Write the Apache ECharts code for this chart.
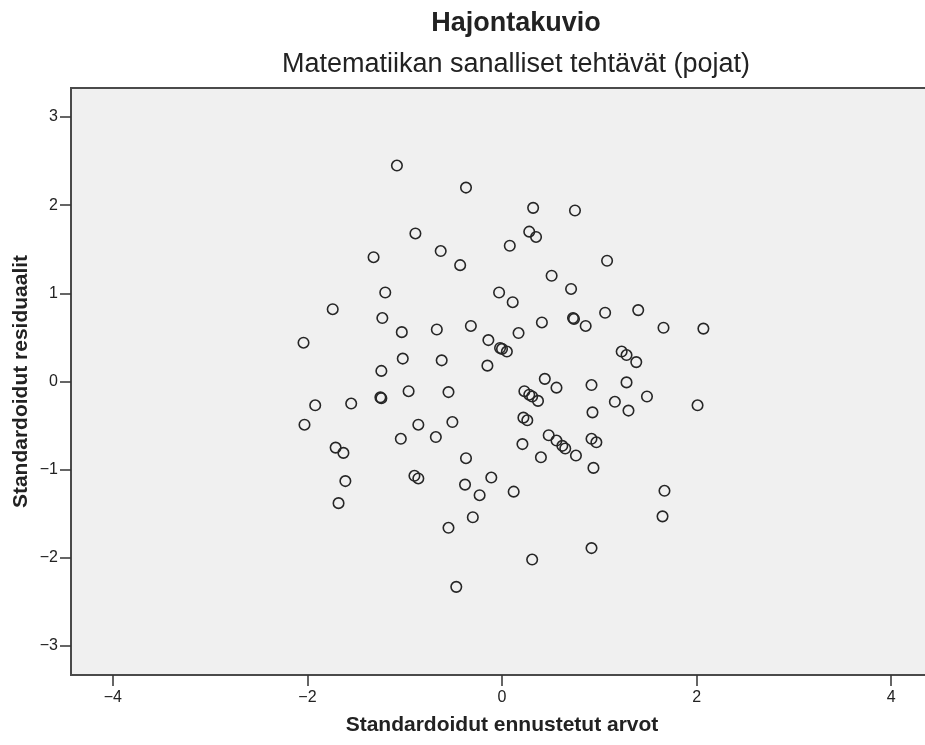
<!DOCTYPE html>
<html>
<head>
<meta charset="utf-8">
<script src="https://cdn.jsdelivr.net/npm/echarts@6/dist/echarts.min.js"></script>
<style>
html,body{margin:0;padding:0;background:#fff;}
#chart{width:925px;height:745px;}
</style>
</head>
<body>
<div id="chart"></div>
<script>
const titleText = 'Hajontakuvio';
const subtitleText = 'Matematiikan sanalliset tehtävät (pojat)';
const xAxisName = 'Standardoidut ennustetut arvot';
const yAxisName = 'Standardoidut residuaalit';
const xTicks = [-4, -2, 0, 2, 4];
const yTicks = [-3, -2, -1, 0, 1, 2, 3];

// Standardised predicted values (x)
const predicted = [
  -1.08, -0.37, 0.32, 0.75, -0.89, 0.28, 0.35, -0.63, 0.08, -1.32,
  -0.43, 1.08, 0.51, 0.71, -1.20, -0.03, 0.11, -1.74, -1.23, -1.03,
  -0.67, -0.32, 0.73, 0.74, 0.86, 1.06, 0.41, 0.17, -0.14, -0.02,
  0.00, 0.05, -2.04, -1.02, -0.62, -0.15, -1.24, 1.23, 1.28, 1.40,
  1.66, 2.07, 1.38, 0.92, 1.28, 1.16, 1.49, 1.30, 0.93, 2.01,
  0.44, 0.56, -1.92, -1.55, -1.25, -1.24, -0.96, -0.55, 0.23, 0.28,
  0.31, 0.37, -2.03, -0.86, -0.51, 0.22, 0.26, -1.04, -0.68, 0.21,
  0.48, 0.56, 0.62, 0.65, 0.76, 0.92, 0.97, 0.40, -1.71, -1.63,
  -0.37, 0.94, -1.61, -0.90, -0.86, -0.11, -0.38, -0.23, 0.12, -1.68,
  1.65, 1.67, -0.30, -0.55, 0.92, 0.31, -0.47
];
// Standardised residuals (y)
const residuals = [
  2.45, 2.20, 1.97, 1.94, 1.68, 1.70, 1.64, 1.48, 1.54, 1.41,
  1.32, 1.37, 1.20, 1.05, 1.01, 1.01, 0.90, 0.82, 0.72, 0.56,
  0.59, 0.63, 0.72, 0.71, 0.63, 0.78, 0.67, 0.55, 0.47, 0.38,
  0.37, 0.34, 0.44, 0.26, 0.24, 0.18, 0.12, 0.34, 0.30, 0.81,
  0.61, 0.60, 0.22, -0.04, -0.01, -0.23, -0.17, -0.33, -0.35, -0.27,
  0.03, -0.07, -0.27, -0.25, -0.18, -0.19, -0.11, -0.12, -0.11, -0.15,
  -0.17, -0.22, -0.49, -0.49, -0.46, -0.41, -0.44, -0.65, -0.63, -0.71,
  -0.61, -0.67, -0.73, -0.76, -0.84, -0.65, -0.69, -0.86, -0.75, -0.81,
  -0.87, -0.98, -1.13, -1.07, -1.10, -1.09, -1.17, -1.29, -1.25, -1.38,
  -1.53, -1.24, -1.54, -1.66, -1.89, -2.02, -2.33
];

const points = predicted.map((x, i) => [x, residuals[i]]);
const minus = v => String(v).replace('-', '\u2212');

const chart = echarts.init(document.getElementById('chart'), null, {renderer: 'canvas'});
chart.setOption({
  animation: false,
  backgroundColor: '#ffffff',
  title: [
    {
      text: titleText,
      left: 511, top: 5, textAlign: 'center',
      textStyle: {fontFamily: 'Liberation Sans', fontSize: 27, fontWeight: 'bold', color: '#222'}
    },
    {
      text: subtitleText,
      left: 511, top: 46, textAlign: 'center',
      textStyle: {fontFamily: 'Liberation Sans', fontSize: 27, fontWeight: 'normal', color: '#222'}
    }
  ],
  grid: {
    left: 71, top: 88, width: 862, height: 587,
    outerBoundsMode: 'none',
    show: true, backgroundColor: '#f0f0f0', borderColor: '#4a4a4a', borderWidth: 2
  },
  xAxis: {
    type: 'value', min: -4.43, max: 4.43,
    name: xAxisName, nameLocation: 'middle', nameGap: 40, nameMoveOverlap: false,
    nameTextStyle: {fontFamily: 'Liberation Sans', fontSize: 21, fontWeight: 'bold', color: '#222'},
    splitLine: {show: false},
    axisLine: {show: true, onZero: false, lineStyle: {color: '#4a4a4a', width: 2}},
    axisTick: {show: true, length: 11, customValues: xTicks, lineStyle: {color: '#333', width: 1.5}},
    axisLabel: {customValues: xTicks, margin: 15, formatter: minus,
      fontFamily: 'Liberation Sans', fontSize: 16, color: '#222'}
  },
  yAxis: {
    type: 'value', min: -3.33, max: 3.33,
    name: yAxisName, nameLocation: 'middle', nameGap: 39, nameMoveOverlap: false,
    nameTextStyle: {fontFamily: 'Liberation Sans', fontSize: 21, fontWeight: 'bold', color: '#222'},
    splitLine: {show: false},
    axisLine: {show: true, onZero: false, lineStyle: {color: '#4a4a4a', width: 2}},
    axisTick: {show: true, length: 11, customValues: yTicks, lineStyle: {color: '#333', width: 1.5}},
    axisLabel: {customValues: yTicks, margin: 13, formatter: minus,
      fontFamily: 'Liberation Sans', fontSize: 16, color: '#222'}
  },
  series: [{
    type: 'scatter',
    data: points,
    symbol: 'circle',
    symbolSize: 10.5,
    itemStyle: {color: 'rgba(0,0,0,0)', borderColor: '#262626', borderWidth: 1.6, opacity: 1},
    emphasis: {disabled: true}
  }]
});
</script>
</body>
</html>
